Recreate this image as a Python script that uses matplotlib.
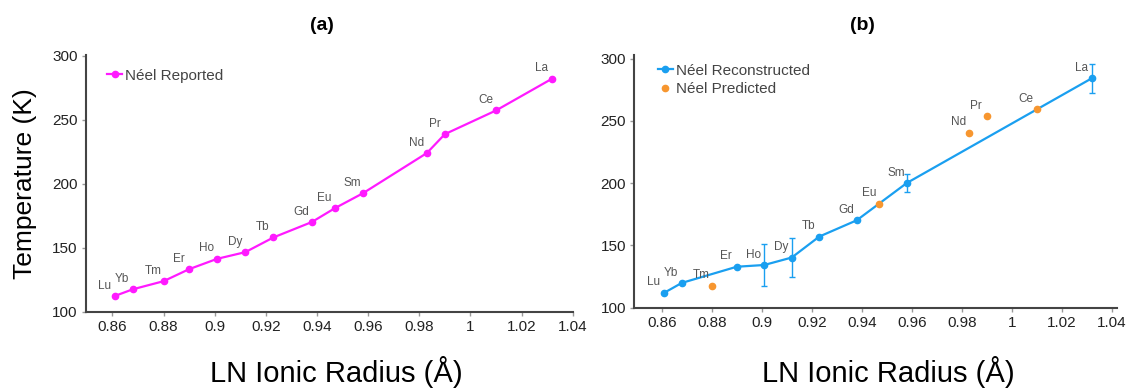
import matplotlib
matplotlib.use("Agg")
import matplotlib.pyplot as plt

plt.rcParams['font.family'] = ['Liberation Sans', 'DejaVu Sans']

# Lanthanide labels and ionic radii (A)
elements = ['Lu', 'Yb', 'Tm', 'Er', 'Ho', 'Dy', 'Tb', 'Gd', 'Eu', 'Sm', 'Nd', 'Pr', 'Ce', 'La']
radius = [0.861, 0.868, 0.880, 0.890, 0.901, 0.912, 0.923, 0.938, 0.947, 0.958, 0.983, 0.990, 1.010, 1.032]

# (a) reported Neel temperatures
t_reported = [112.3, 117.5, 123.8, 133.2, 141.3, 146.5, 158.0, 170.0, 180.8, 192.5, 223.9, 238.6, 257.1, 282.0]

# (b) reconstructed points (with error bars) and predicted points
rec_elements = ['Lu', 'Yb', 'Er', 'Ho', 'Dy', 'Tb', 'Gd', 'Sm', 'La']
rec_radius = [0.861, 0.868, 0.890, 0.901, 0.912, 0.923, 0.938, 0.958, 1.032]
t_rec = [112.0, 119.9, 132.9, 134.3, 140.3, 157.1, 170.2, 200.1, 284.2]
t_rec_err = [0, 0, 0, 16.7, 15.5, 0, 0, 7.5, 11.6]

pred_elements = ['Tm', 'Eu', 'Nd', 'Pr', 'Ce']
pred_radius = [0.880, 0.947, 0.983, 0.990, 1.010]
t_pred = [117.7, 183.5, 240.4, 254.0, 259.2]

magenta = '#ff1aff'
blue = '#1a9ff0'
orange = '#f7962f'
spine_col = '#444444'

fig = plt.figure(figsize=(11.32, 3.90), dpi=100)
ax1 = fig.add_axes([0.0760, 0.2008, 0.4299, 0.6584])
ax2 = fig.add_axes([0.5603, 0.2110, 0.4262, 0.6482])


def style(ax):
    for s in ['top', 'right']:
        ax.spines[s].set_visible(False)
    for s in ['left', 'bottom']:
        ax.spines[s].set_color(spine_col)
        ax.spines[s].set_linewidth(1.5)
    ax.tick_params(axis='both', labelsize=11, colors='#999999', labelcolor='#222222',
                   length=3, width=1, pad=3)
    ax.set_xticks([0.86, 0.88, 0.9, 0.92, 0.94, 0.96, 0.98, 1.0, 1.02, 1.04])
    ax.set_xticklabels(['0.86', '0.88', '0.9', '0.92', '0.94', '0.96', '0.98', '1', '1.02', '1.04'])
    ax.set_yticks([100, 150, 200, 250, 300])


def label_points(ax, xs, ys, names):
    for x, y, n in zip(xs, ys, names):
        ax.annotate(n, (x, y), xytext=(-7.5, 7.5), textcoords='offset points',
                    ha='center', va='center', fontsize=8.5, color='#555555')


# (a)
ax1.plot(radius, t_reported, color=magenta, lw=1.6, marker='o', ms=4.5,
         label='Néel Reported')
label_points(ax1, radius, t_reported, elements)
ax1.set_xlim(0.8497, 1.04)
ax1.set_ylim(100, 300.5)
style(ax1)
ax1.set_ylabel('Temperature (K)', fontsize=19, labelpad=11)
ax1.set_xlabel('LN Ionic Radius (Å)', fontsize=21, va='center')
ax1.xaxis.set_label_coords(0.514, -0.235)
ax1.legend(loc='upper left', bbox_to_anchor=(0.015, 1.0), frameon=False, fontsize=11,
           handlelength=1.0, handletextpad=0.2, labelcolor='#444444')

# (b)
line_rec, = ax2.plot(rec_radius, t_rec, color=blue, lw=1.6, marker='o', ms=4.5,
                     label='Néel Reconstructed')
ax2.errorbar(rec_radius, t_rec, yerr=t_rec_err, color=blue, ls='none',
             elinewidth=1, capsize=2)
pts_pred, = ax2.plot(pred_radius, t_pred, ls='none', marker='o', ms=4.5, color=orange,
                     label='Néel Predicted', zorder=3)
label_points(ax2, rec_radius, t_rec, rec_elements)
label_points(ax2, pred_radius, t_pred, pred_elements)
ax2.set_xlim(0.849, 1.042)
ax2.set_ylim(100, 303)
style(ax2)
ax2.set_xlabel('LN Ionic Radius (Å)', fontsize=21, va='center')
ax2.xaxis.set_label_coords(0.526, -0.254)
ax2.legend(handles=[line_rec, pts_pred], loc='upper left', bbox_to_anchor=(0.02, 1.02),
           frameon=False, fontsize=11, handlelength=1.0, handletextpad=0.2,
           labelcolor='#444444', labelspacing=0.3)

fig.text(322 / 1132, 1 - 25 / 390, '(a)', ha='center', va='center', fontsize=14, fontweight='bold')
fig.text(862 / 1132, 1 - 25 / 390, '(b)', ha='center', va='center', fontsize=14, fontweight='bold')

fig.savefig('out.png', dpi=100)
